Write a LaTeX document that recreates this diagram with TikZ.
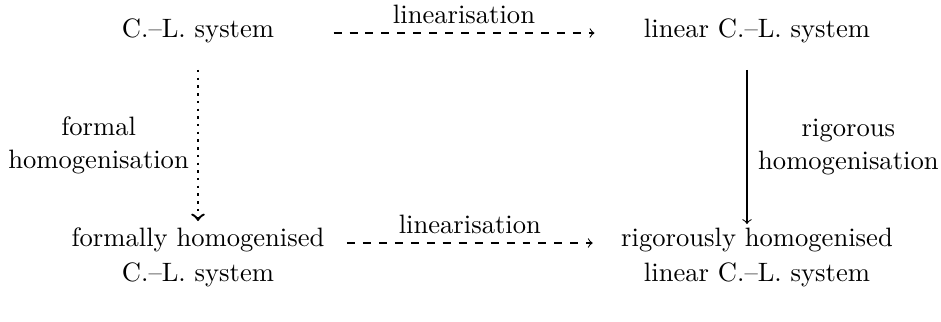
\documentclass[tikz,border=0pt]{standalone}
\usetikzlibrary{calc}
\begin{document}
\begin{tikzpicture}[x=0.376pt,y=-0.376pt,
  txt/.style={inner sep=0pt, anchor=base, align=center},
  lab/.style={inner sep=0pt, align=center},
  dasharrow/.style={->, dash pattern=on 3pt off 3pt},
  dotarrow/.style={->, line width=0.9pt, dotted},
  solidarrow/.style={->}]
\useasboundingbox (0,0) rectangle (941,321);
\node[txt] (A) at (198,37) {C.--L. system};
\node[txt] (B) at (757,37) {linear C.--L. system};
\node[txt] (C) at (198,281) {formally homogenised\\[1.16pt]C.--L. system};
\node[txt] (D) at (757,281) {rigorously homogenised\\[1.16pt]linear C.--L. system};
\draw[dasharrow] ([shift={(59,-4)}]A.base east) -- ([shift={(-49,-4)}]B.base west)
  node[lab, midway, anchor=base, yshift=3.76pt] (L1) {linearisation};
\draw[dasharrow] ([shift={(22,-38)}]C.base east) -- ([shift={(-28,-38)}]D.base west)
  node[lab, midway, anchor=base, yshift=3.4pt] (L2) {linearisation};
\draw[dotarrow] ([shift={(0,27)}]A.south) -- ([shift={(0,-60)}]C.base)
  node[lab, midway, left=3pt] (L3) {formal\\[0.4pt]homogenisation};
\draw[solidarrow] ([shift={(-10,27)}]B.south) -- ([shift={(-10,-57)}]D.base)
  node[lab, midway, right=4pt] (L4) {rigorous\\[0.4pt]homogenisation};
\end{tikzpicture}
\end{document}
